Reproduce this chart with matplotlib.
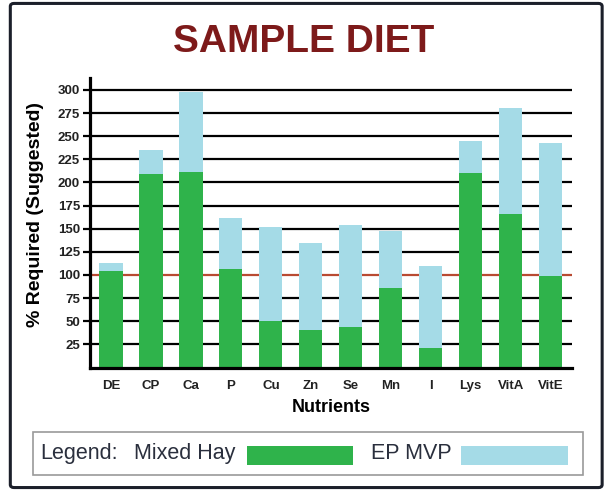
import numpy as np
import matplotlib
matplotlib.use("Agg")
import matplotlib.pyplot as plt
from matplotlib.patches import Rectangle, FancyBboxPatch

plt.rcParams["font.family"] = ["Liberation Sans", "DejaVu Sans"]

# Data
nutrients = ["DE", "CP", "Ca", "P", "Cu", "Zn", "Se", "Mn", "I", "Lys", "VitA", "VitE"]
mixed_hay = [104, 209, 211, 106, 50, 41, 44, 86, 21, 210, 166, 99]
totals = [113, 235, 298, 162, 152, 135, 154, 147, 110, 245, 280, 243]
ep_mvp = [t - h for t, h in zip(totals, mixed_hay)]
yticks = [25, 50, 75, 100, 125, 150, 175, 200, 225, 250, 275, 300]

green = "#2fb34b"
blue = "#a5dbe7"
red_line = "#b94a32"
title_col = "#7d1a1a"
legend_txt = "#2a2f3d"

fig = plt.figure(figsize=(6.07, 4.90), dpi=100)
ax = fig.add_axes([0.148, 0.250, 0.794, 0.591])

x = np.arange(len(nutrients))

# Horizontal guide lines (100 marked in red)
for v in yticks:
    c = red_line if v == 100 else "black"
    ax.axhline(v, color=c, linewidth=1.6, zorder=1)

ax.bar(x, mixed_hay, width=0.58, color=green, zorder=2)
ax.bar(x, ep_mvp, width=0.58, bottom=mixed_hay, color=blue, zorder=2)

ax.set_xlim(-0.53, 11.53)
ax.set_ylim(0, 313)
ax.set_xticks(x)
ax.set_xticklabels(nutrients, fontsize=9.5, fontweight="bold", color="#222222")
ax.set_yticks(yticks)
ax.set_yticklabels([str(v) for v in yticks], fontsize=9.5, fontweight="bold", color="#222222")
ax.tick_params(axis="y", length=5, width=1.6, pad=2)
ax.tick_params(axis="x", length=0, pad=9)

for s in ["top", "right"]:
    ax.spines[s].set_visible(False)
ax.spines["left"].set_linewidth(2.3)
ax.spines["bottom"].set_linewidth(2.3)

ax.set_ylabel("% Required (Suggested)", fontsize=14, fontweight="bold")
ax.yaxis.set_label_coords(-0.095, 0.53)
ax.set_xlabel("Nutrients", fontsize=13, fontweight="bold", labelpad=5)

fig.text(0.5, 0.915, "SAMPLE DIET", ha="center", va="center",
         fontsize=28, fontweight="bold", color=title_col)

# Outer frame
fig.patches.append(FancyBboxPatch((0.017, 0.005), 0.975, 0.988,
                                  boxstyle="round,pad=0,rounding_size=0.006",
                                  transform=fig.transFigure, fill=False,
                                  edgecolor="#1b1f2a", linewidth=2.2))

# Legend box
fig.patches.append(Rectangle((0.054, 0.031), 0.906, 0.088,
                             transform=fig.transFigure, facecolor="white",
                             edgecolor="#9a9a9a", linewidth=1.2))
fig.text(0.066, 0.075, "Legend:", ha="left", va="center", fontsize=15.5, color=legend_txt)
fig.text(0.221, 0.075, "Mixed Hay", ha="left", va="center", fontsize=15.5, color=legend_txt)
fig.patches.append(Rectangle((0.407, 0.051), 0.175, 0.039,
                             transform=fig.transFigure, facecolor=green, edgecolor="none"))
fig.text(0.612, 0.075, "EP MVP", ha="left", va="center", fontsize=15.5, color=legend_txt)
fig.patches.append(Rectangle((0.759, 0.051), 0.177, 0.039,
                             transform=fig.transFigure, facecolor=blue, edgecolor="none"))

fig.savefig("out.png", dpi=100)
